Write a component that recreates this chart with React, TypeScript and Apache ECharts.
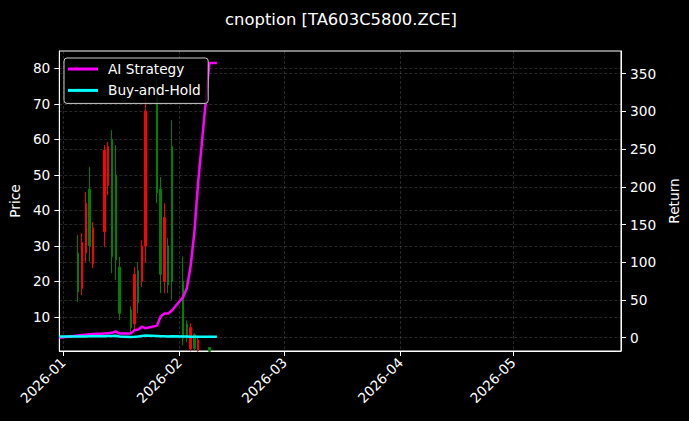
import React, { useEffect, useRef } from 'react';
import * as echarts from 'echarts';

const titleText = 'cnoption [TA603C5800.ZCE]';
const monthTickDays = [0, 31, 59, 90, 120];
const monthTickLabels = ['2026-01', '2026-02', '2026-03', '2026-04', '2026-05'];
const priceTicks = [10, 20, 30, 40, 50, 60, 70, 80];
const returnTicks = [0, 50, 100, 150, 200, 250, 300, 350];

// days since 2026-01-01
const candleDays = [4, 5, 6, 7, 8, 11, 12, 13, 14, 15, 18, 19, 20, 21, 22, 25, 26, 27, 28, 29, 32, 33, 34, 35, 36, 39];
const candleOpen = [28, 18, 28, 46, 25, 34, 47, 60, 50, 24, 12, 8, 23, 20, 30, 72, 46, 20, 30, 58, 20, 8, 1, 5, 0.5, 1.4];
const candleClose = [17, 31, 42, 30, 35, 57, 58, 27, 26, 11, 7, 22, 14, 30, 68, 45, 22, 38, 19, 20, 4, 4, 7, 1, 3.5, 0.3];
const candleLow = [14.2, 16.1, 25.5, 25.5, 23.8, 29.7, 44.3, 22.3, 20.4, 9.1, 5.5, 6.3, 11.1, 18.4, 25.2, 42, 16.7, 16.7, 16.7, 14.8, 2, 3, 0.3, 0.6, 0.2, 0.1];
const candleHigh = [33, 33.6, 45.2, 52.2, 36.7, 58.4, 59.3, 62.6, 58.4, 26.9, 13, 24, 25.5, 31.6, 72, 77, 49.4, 42, 32.2, 65.4, 27, 9, 8.2, 5.4, 4.3, 1.5];

const lineDays = [-1, 4, 5, 6, 7, 8, 11, 12, 13, 14, 15, 18, 19, 20, 21, 22, 25, 26, 27, 28, 29, 32, 33, 34, 35, 36, 39, 40, 41];
const aiStrategy = [0, 3, 3.5, 4, 4.5, 5, 5.5, 6, 6.5, 8.5, 5.5, 5.5, 10, 11, 14.6, 12.5, 16, 28, 32, 32, 36, 54, 66, 95, 140, 206, 364, 364, 364];
const buyAndHold = [1.5, 1.5, 1.6, 1.7, 1.8, 1.8, 2.0, 2.2, 2.4, 2.6, 1.6, 1.0, 1.2, 1.5, 2.4, 2.8, 2.2, 2.0, 1.8, 1.6, 1.8, 1.6, 1.5, 1.4, 1.3, 1.2, 1.2, 1.2, 1.2];

const FONT = 'DejaVu Sans';
const GRID_COLOR = 'rgba(255,255,255,0.22)';

export default function App() {
  const ref = useRef<HTMLDivElement>(null);
  useEffect(() => {
    if (!ref.current) return;
    const chart = echarts.init(ref.current, null, { renderer: 'svg' });
    const splitLine = { show: true, lineStyle: { color: GRID_COLOR, type: [3, 2], width: 0.7 } };
    const axisLine = { show: true, onZero: false, lineStyle: { color: '#ffffff', width: 1 } };
    const tickStyle = { color: '#ffffff', width: 1 };
    const labelStyle = { color: '#ffffff', fontSize: 13.7, fontFamily: FONT };
    chart.setOption({
      animation: false,
      backgroundColor: '#000000',
      textStyle: { fontFamily: FONT },
      grid: {
        left: 58, top: 51, right: 65, bottom: 70,
        show: true, borderColor: '#ffffff', borderWidth: 1, backgroundColor: 'transparent',
      },
      graphic: [
        {
          type: 'text', x: 341, y: 19.3,
          style: { text: titleText, fill: '#ffffff', fontSize: 16.4, fontFamily: FONT, textAlign: 'center', textVerticalAlign: 'middle' },
        },
      ],
      legend: {
        orient: 'vertical', left: 64, top: 58,
        padding: [4, 7.5, 6, 4], itemGap: 7.4,
        itemWidth: 30, itemHeight: 3,
        backgroundColor: 'rgba(0,0,0,0.8)', borderColor: '#cccccc', borderWidth: 1, borderRadius: 3,
        textStyle: { color: '#ffffff', fontSize: 13.7, fontFamily: FONT, padding: [0, 0, 0, 5] },
        data: [
          { name: 'AI Strategy', icon: 'rect' },
          { name: 'Buy-and-Hold', icon: 'rect' },
        ],
      },
      xAxis: {
        type: 'value', min: -1.03, max: 148.8,
        axisLine,
        axisTick: { show: true, length: 5, lineStyle: tickStyle, customValues: monthTickDays },
        axisLabel: {
          ...labelStyle, rotate: 45, margin: 9, customValues: monthTickDays,
          formatter: (v: number) => {
            const i = monthTickDays.indexOf(Math.round(v));
            return i >= 0 ? monthTickLabels[i] : '';
          },
        },
        splitLine,
      },
      yAxis: [
        {
          type: 'value', position: 'left', min: 0.4, max: 84.9,
          name: 'Price', nameLocation: 'middle', nameGap: 36,
          nameTextStyle: { color: '#ffffff', fontSize: 13.7, fontFamily: FONT },
          axisLine,
          axisTick: { show: true, length: 5, lineStyle: tickStyle, customValues: priceTicks },
          axisLabel: { ...labelStyle, margin: 9, customValues: priceTicks },
          splitLine,
        },
        {
          type: 'value', position: 'right', min: -17.6, max: 380,
          name: 'Return', nameLocation: 'middle', nameGap: 45,
          nameTextStyle: { color: '#ffffff', fontSize: 13.7, fontFamily: FONT },
          axisLine,
          axisTick: { show: true, length: 5, lineStyle: tickStyle, customValues: returnTicks },
          axisLabel: { ...labelStyle, margin: 9, customValues: returnTicks },
          splitLine,
        },
      ],
      series: [
        {
          type: 'candlestick', name: 'Price', xAxisIndex: 0, yAxisIndex: 0,
          barWidth: 1.8,
          itemStyle: { color: '#ff0000', color0: '#008000', borderColor: '#ff0000', borderColor0: '#008000', borderWidth: 1 },
          data: candleDays.map((d, i) => [d, candleOpen[i], candleClose[i], candleLow[i], candleHigh[i]]),
          z: 2,
        },
        {
          type: 'line', name: 'AI Strategy', xAxisIndex: 0, yAxisIndex: 1,
          showSymbol: false, symbol: 'none',
          lineStyle: { color: '#ff00ff', width: 2.5 }, itemStyle: { color: '#ff00ff' },
          data: lineDays.map((d, i) => [d, aiStrategy[i]]),
          z: 3,
        },
        {
          type: 'line', name: 'Buy-and-Hold', xAxisIndex: 0, yAxisIndex: 1,
          showSymbol: false, symbol: 'none',
          lineStyle: { color: '#00ffff', width: 2.5 }, itemStyle: { color: '#00ffff' },
          data: lineDays.map((d, i) => [d, buyAndHold[i]]),
          z: 4,
        },
      ],
    });
    return () => chart.dispose();
  }, []);
  return (
    <div
      ref={ref}
      style={{ position: 'fixed', left: 0, top: 0, width: 689, height: 421, background: '#000000' }}
    />
  );
}
